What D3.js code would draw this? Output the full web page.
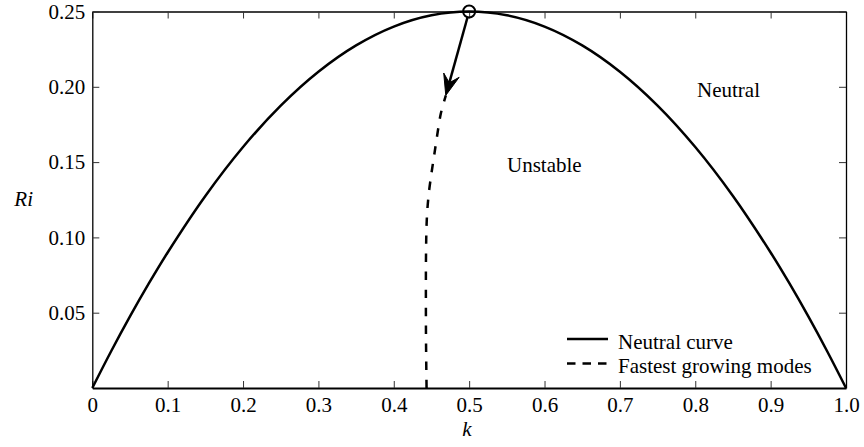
<!DOCTYPE html>
<html>
<head>
<meta charset="utf-8">
<script src="https://cdn.jsdelivr.net/npm/d3@7"></script>
<style>
    body { margin: 0; background: #fff; }
    svg text { font-family: "Liberation Serif", "Times New Roman", serif; fill: #000; }
</style>
</head>
<body>
<script>
// neutral curve
var neutralK  = [0, 0.025, 0.05, 0.075, 0.1, 0.15, 0.2, 0.25, 0.3, 0.35, 0.4, 0.45, 0.5,
                 0.55, 0.6, 0.65, 0.7, 0.75, 0.8, 0.85, 0.9, 0.925, 0.95, 0.975, 1.0];
var neutralRi = [0, 0.0244, 0.0475, 0.0694, 0.09, 0.1275, 0.16, 0.1875, 0.21, 0.2275, 0.24, 0.2475, 0.25,
                 0.2475, 0.24, 0.2275, 0.21, 0.1875, 0.16, 0.1275, 0.09, 0.0694, 0.0475, 0.0244, 0];

// fastest growing modes (dashed)
var fastestK  = [0.4435, 0.4428, 0.4426, 0.4428, 0.4438, 0.4462, 0.4500, 0.4536, 0.4576, 0.4625, 0.4691];
var fastestRi = [0, 0.03, 0.058, 0.09, 0.112, 0.128, 0.1426, 0.1545, 0.1678, 0.1824, 0.1943];

var xTicks = [0, 0.1, 0.2, 0.3, 0.4, 0.5, 0.6, 0.7, 0.8, 0.9, 1.0];
var yTicks = [0.05, 0.10, 0.15, 0.20, 0.25];

var arrowFrom = [0.5, 0.25];
var arrowTo   = [0.469, 0.1943];

var legendLabels = ['Neutral curve', 'Fastest growing modes'];

var W = 864, H = 447,
    mLeft = 92.3, mRight = 846, mTop = 11.5, mBottom = 388,
    fontSize = 21;

var svg = d3.select('body').append('svg')
    .attr('width', W)
    .attr('height', H);

var x = d3.scaleLinear().domain([0, 1]).range([mLeft, mRight]),
    y = d3.scaleLinear().domain([0, 0.25]).range([mBottom, mTop]);

function fmtX( d ){
    if ( d === 0 ) return '0';
    return d3.format('.1f')( d );
}

// axes, ticks pointing inward
var gB = svg.append('g')
    .attr('transform', 'translate(0,' + mBottom + ')')
    .call( d3.axisBottom(x).tickValues(xTicks).tickSizeInner(-7).tickSizeOuter(0).tickPadding(9).tickFormat(fmtX) );
var gT = svg.append('g')
    .attr('transform', 'translate(0,' + mTop + ')')
    .call( d3.axisTop(x).tickValues(xTicks).tickSizeInner(-7).tickSizeOuter(0).tickFormat('') );
var gL = svg.append('g')
    .attr('transform', 'translate(' + mLeft + ',0)')
    .call( d3.axisLeft(y).tickValues(yTicks).tickSizeInner(-7).tickSizeOuter(0).tickPadding(7).tickFormat(d3.format('.2f')) );
var gR = svg.append('g')
    .attr('transform', 'translate(' + mRight + ',0)')
    .call( d3.axisRight(y).tickValues(yTicks).tickSizeInner(-7).tickSizeOuter(0).tickFormat('') );

[gB, gT, gL, gR].forEach(function( g ){
    g.select('.domain').attr('stroke', '#000').attr('stroke-width', 1.3);
    g.selectAll('.tick line').attr('stroke', '#333').attr('stroke-width', 1);
    g.selectAll('.tick text')
        .style('font-family', '"Liberation Serif", "Times New Roman", serif')
        .style('font-size', fontSize + 'px')
        .attr('fill', '#000');
});
gB.select('.domain').attr('stroke-width', 2);

// curves
var neutral = neutralK.map(function( k, i ){ return [k, neutralRi[i]]; }),
    fastest = fastestK.map(function( k, i ){ return [k, fastestRi[i]]; });

var line = d3.line()
    .x(function( d ){ return x(d[0]); })
    .y(function( d ){ return y(d[1]); })
    .curve(d3.curveCatmullRom);

svg.append('path')
    .datum(neutral)
    .attr('d', line)
    .attr('fill', 'none')
    .attr('stroke', '#000')
    .attr('stroke-width', 2.5);

svg.append('path')
    .datum(fastest)
    .attr('d', line)
    .attr('fill', 'none')
    .attr('stroke', '#000')
    .attr('stroke-width', 2.5)
    .attr('stroke-dasharray', '8.5,9.5');

// circle at the peak and the arrow down to the dashed curve
var cx = x(arrowFrom[0]), cy = y(arrowFrom[1]),
    tx = x(arrowTo[0]), ty = y(arrowTo[1]),
    r = 6;

svg.append('circle')
    .attr('cx', cx).attr('cy', cy).attr('r', r)
    .attr('fill', 'none')
    .attr('stroke', '#000')
    .attr('stroke-width', 2);

var dx = tx - cx, dy = ty - cy,
    len = Math.sqrt(dx * dx + dy * dy),
    ux = dx / len, uy = dy / len,
    px = -uy, py = ux,
    headLen = 21, headW = 8, notch = 13;

svg.append('line')
    .attr('x1', cx + ux * r).attr('y1', cy + uy * r)
    .attr('x2', tx - ux * notch).attr('y2', ty - uy * notch)
    .attr('stroke', '#000')
    .attr('stroke-width', 2.5);

svg.append('path')
    .attr('d', 'M' + tx + ',' + ty +
        'L' + (tx - ux * headLen + px * headW) + ',' + (ty - uy * headLen + py * headW) +
        'L' + (tx - ux * notch) + ',' + (ty - uy * notch) +
        'L' + (tx - ux * headLen - px * headW) + ',' + (ty - uy * headLen - py * headW) + 'Z')
    .attr('fill', '#000')
    .attr('stroke', '#000')
    .attr('stroke-width', 1)
    .attr('stroke-linejoin', 'miter');

// region labels
svg.append('text')
    .attr('x', 507).attr('y', 172)
    .style('font-size', fontSize + 'px')
    .text('Unstable');
svg.append('text')
    .attr('x', 697).attr('y', 97)
    .style('font-size', fontSize + 'px')
    .text('Neutral');

// axis titles
svg.append('text')
    .attr('x', 467).attr('y', 436)
    .attr('text-anchor', 'middle')
    .style('font-size', fontSize + 'px')
    .style('font-style', 'italic')
    .text('k');
svg.append('text')
    .attr('x', 33).attr('y', 206)
    .attr('text-anchor', 'end')
    .style('font-size', fontSize + 'px')
    .style('font-style', 'italic')
    .text('Ri');

// legend
var legend = svg.append('g').attr('transform', 'translate(567,339)');
legend.selectAll('line')
    .data(legendLabels)
    .enter().append('line')
    .attr('x1', 0).attr('x2', 41)
    .attr('y1', function( d, i ){ return i * 24.5; })
    .attr('y2', function( d, i ){ return i * 24.5; })
    .attr('stroke', '#000')
    .attr('stroke-width', 2.5)
    .attr('stroke-dasharray', function( d, i ){ return i ? '8.5,7' : null; });
legend.selectAll('text')
    .data(legendLabels)
    .enter().append('text')
    .attr('x', 51)
    .attr('y', function( d, i ){ return i * 24.5 + 9.5; })
    .style('font-size', fontSize + 'px')
    .text(function( d ){ return d; });
</script>
</body>
</html>
